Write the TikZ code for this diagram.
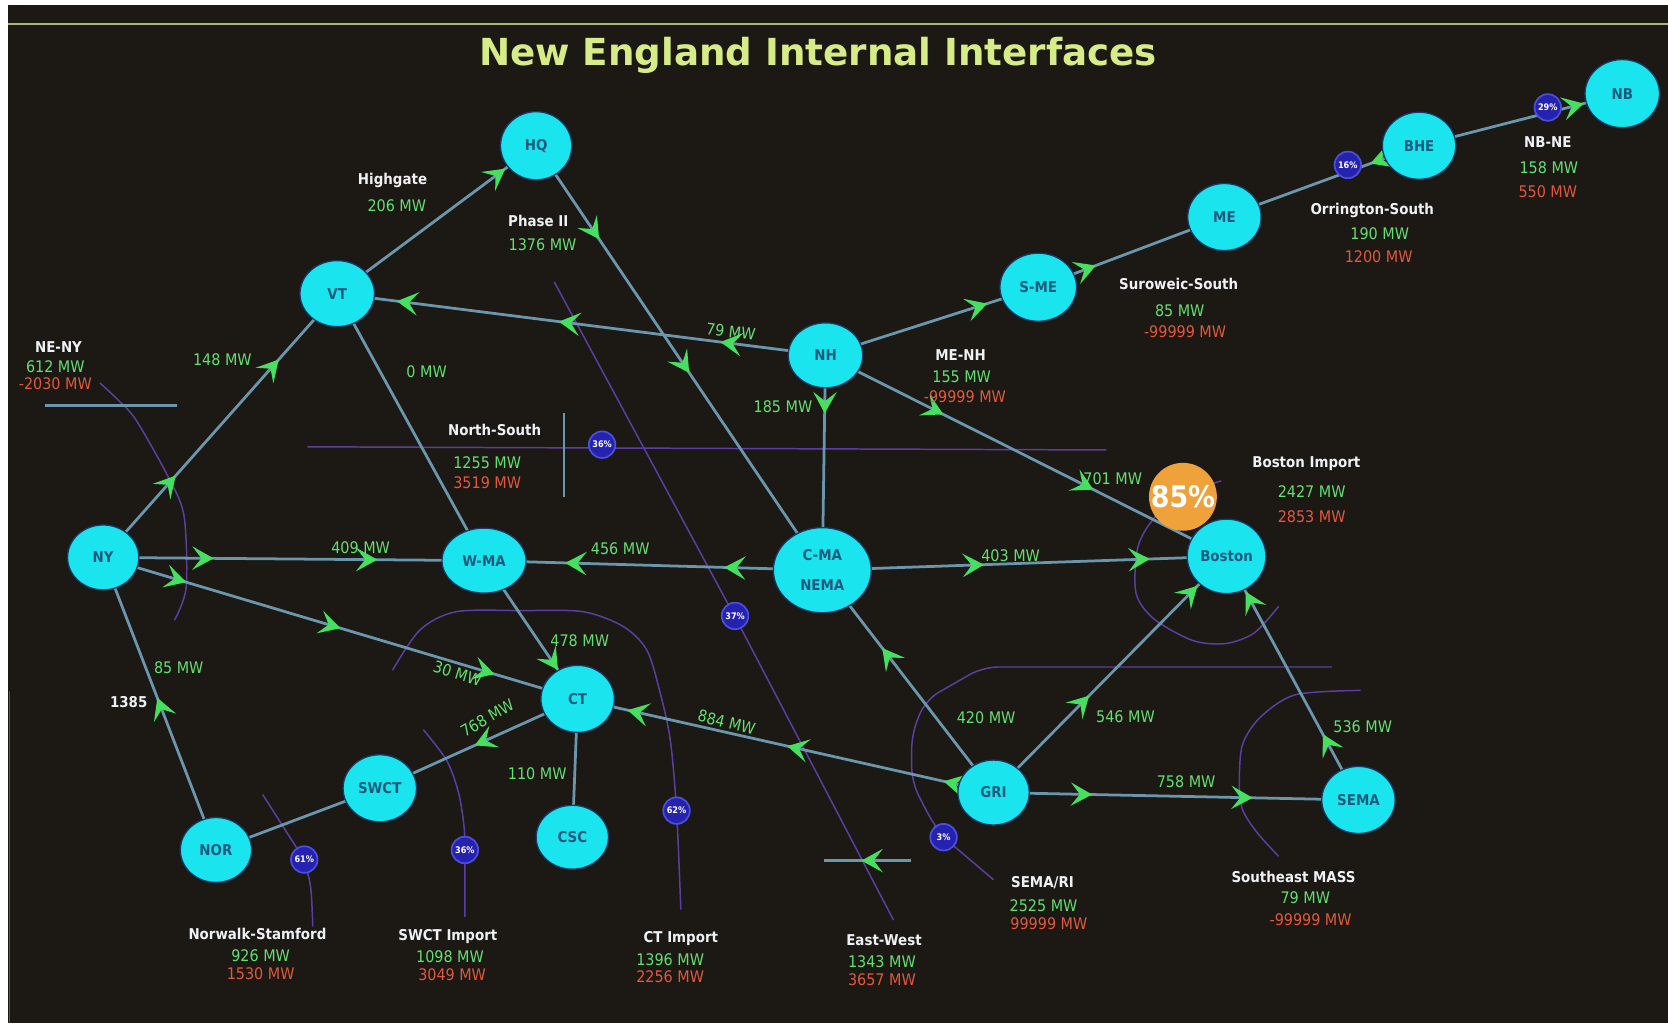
\documentclass[tikz,border=0pt]{standalone}
\usepackage{fontspec}
\setmainfont{DejaVu Sans}
\newfontfamily\screenfont{DejaVu Sans}[FakeStretch=0.9]
\usetikzlibrary{shapes.geometric,arrows.meta,decorations.markings}

\pgfdeclarelayer{backdrop}
\pgfdeclarelayer{lines}
\pgfsetlayers{backdrop,lines,main}

\definecolor{screen}{HTML}{1C1813}
\definecolor{cyanbus}{HTML}{1AE4EE}
\definecolor{busrim}{HTML}{173A66}
\definecolor{bustext}{HTML}{1C5A7C}
\definecolor{tie}{HTML}{6A97AE}
\definecolor{flowgreen}{HTML}{45E05E}
\definecolor{mwgreen}{HTML}{62E070}
\definecolor{limitred}{HTML}{E2583C}
\definecolor{namewhite}{HTML}{EEF2F6}
\definecolor{ifacecol}{HTML}{5B3FA0}
\definecolor{pctblue}{HTML}{2622B0}
\definecolor{pctrim}{HTML}{4B4FE0}
\definecolor{alarm}{HTML}{EFA13A}
\definecolor{titlecol}{HTML}{D6EC86}
\definecolor{rulecol}{HTML}{A6B777}
\definecolor{edgegreen}{HTML}{3F6A2C}

\tikzset{
  busnode/.style={ellipse, fill=cyanbus, draw=busrim, line width=1.2pt, inner sep=0pt,
    text=bustext, font=\screenfont\bfseries\fontsize{14}{16}\selectfont},
  tiearrow/.style={draw=tie, line width=2.6pt},
  flowat/.style={postaction={decorate, decoration={markings,
    mark=at position #1 with {\arrow{Stealth[length=20pt,width=22pt,inset=8.5pt,color=flowgreen]}}}}},
  ifaceline/.style={draw=ifacecol, line width=1.4pt, line join=round},
  pctbadge/.style={circle, fill=pctblue, draw=pctrim, line width=1.6pt, minimum size=25pt,
    inner sep=0pt, text=white, font=\screenfont\bfseries\fontsize{8.5}{9}\selectfont},
  ifacename/.style={text=namewhite, inner sep=0pt, font=\screenfont\bfseries\fontsize{14}{16}\selectfont},
  mwval/.style={text=mwgreen, inner sep=0pt, font=\screenfont\fontsize{15}{17}\selectfont},
  mwlimit/.style={text=limitred, inner sep=0pt, font=\screenfont\fontsize{15}{17}\selectfont},
}

\begin{document}
\begin{tikzpicture}[x=1pt,y=-1pt]
\useasboundingbox (0,0) rectangle (1568,962);

% screen, frame rule and interface boundaries
\begin{pgfonlayer}{backdrop}
  \fill[white] (0,0) rectangle (1568,962);
  \fill[screen] (7.5,4.7) rectangle (1568,962);
  \draw[rulecol, line width=2.5pt] (7.5,22.5) -- (1568,22.5);
  \draw[edgegreen, line width=1.2pt] (8.6,650) -- (8.6,962);

  % NE-NY
  \draw[ifaceline] plot[smooth] coordinates {(94,360) (111,376) (128,395) (158,448) (173,485) (175,552) (164,583)};
  % North-South
  \draw[ifaceline] (289,420) -- (1040,423);
  % Phase II / East-West
  \draw[ifaceline] (521,265) -- (691,580) -- (840,865);
  % CT Import
  \draw[ifaceline] plot[smooth] coordinates {(369,630) (395,592) (429,575) (490,574) (548,575) (586,589) (608,611) (620,649) (630,695) (636,762) (640,855)};
  % SWCT Import
  \draw[ifaceline] plot[smooth] coordinates {(398,686) (420,715) (431,745) (436,775) (437,799) (437,862)};
  % Norwalk-Stamford
  \draw[ifaceline] plot[smooth] coordinates {(247,747) (268,780) (285,808) (292,834) (294,871)};
  % SEMA/RI
  \draw[ifaceline, rounded corners=14pt] (1252,627) -- (924,627) -- (870,658) -- (857,690) -- (857,735) -- (877,774) -- (887,787) -- (934,827);
  % Boston Import
  \draw[ifaceline] plot[smooth] coordinates {(1148,452) (1105,468) (1081,492) (1069,517) (1068,558) (1085,582) (1121,602) (1152,605) (1179,595) (1202,570)};
  % Southeast MASS
  \draw[ifaceline] plot[smooth] coordinates {(1279,649) (1218,653) (1185,674) (1168,700) (1165,736) (1168,761) (1182,783) (1202,805)};

  % short tie segments
  \draw[tiearrow] (42,381) -- (166,381);
  \draw[tiearrow, line width=2pt] (530,388) -- (530,467);
\end{pgfonlayer}

% title
\node[text=titlecol, inner sep=0pt, font=\bfseries\fontsize{35}{35}\selectfont] (title) at (769,52) {New England Internal Interfaces};

% control areas
\node[busnode, minimum width=67pt, minimum height=64pt] (HQ) at (504,137) {HQ};
\node[busnode, minimum width=70pt, minimum height=62pt] (VT) at (317,276) {VT};
\node[busnode, minimum width=67pt, minimum height=61pt] (NY) at (97,524) {NY};
\node[busnode, minimum width=79pt, minimum height=61pt] (WMA) at (455,527) {W-MA};
\node[busnode, minimum width=92pt, minimum height=80pt, align=center,
      font=\screenfont\bfseries\fontsize{14}{28}\selectfont] (CMA) at (773,536) {C-MA\\NEMA};
\node[busnode, minimum width=70pt, minimum height=61pt] (NH) at (776,334) {NH};
\node[busnode, minimum width=72pt, minimum height=64pt] (SME) at (976,270) {S-ME};
\node[busnode, minimum width=69pt, minimum height=63pt] (ME) at (1151,204) {ME};
\node[busnode, minimum width=69pt, minimum height=63pt] (BHE) at (1334,137) {BHE};
\node[busnode, minimum width=70pt, minimum height=64pt] (NB) at (1525,88) {NB};
\node[busnode, minimum width=74pt, minimum height=70pt] (Boston) at (1153,523) {Boston};
\node[busnode, minimum width=69pt, minimum height=63pt] (CT) at (543,657) {CT};
\node[busnode, minimum width=69pt, minimum height=63pt] (SWCT) at (357,741) {SWCT};
\node[busnode, minimum width=67pt, minimum height=61pt] (NOR) at (203,799) {NOR};
\node[busnode, minimum width=68pt, minimum height=60pt] (CSC) at (538,787) {CSC};
\node[busnode, minimum width=67pt, minimum height=61pt] (GRI) at (934,745) {GRI};
\node[busnode, minimum width=69pt, minimum height=63pt] (SEMA) at (1277,752) {SEMA};

% interface loading badges
\node[pctbadge] (pct-ns) at (566,418) {36\%};
\node[pctbadge] (pct-ew) at (691,579) {37\%};
\node[pctbadge] (pct-nws) at (286,808) {61\%};
\node[pctbadge] (pct-swi) at (437,799) {36\%};
\node[pctbadge] (pct-cti) at (636,762) {62\%};
\node[pctbadge] (pct-sr) at (887,787) {3\%};
\node[pctbadge] (pct-os) at (1267,155) {16\%};
\node[pctbadge] (pct-nbne) at (1455,101) {29\%};
\node[circle, fill=alarm, minimum width=58pt, minimum height=60pt, inner sep=0pt, text=white,
      font=\screenfont\bfseries\fontsize{28}{28}\selectfont] (pct-bi) at (1112,467) {85\%};

% ties with flow direction marks
\begin{pgfonlayer}{lines}
  \draw[tiearrow, flowat=0.845] (VT.center) -- (HQ.center);
  \draw[tiearrow, flowat=0.22, flowat=0.535] (HQ.center) -- (CMA.center);
  \draw[tiearrow, flowat=0.215, flowat=0.546, flowat=0.878] (NH.center) -- (VT.center);
  \draw[tiearrow, flowat=0.31, flowat=0.75] (NY.center) -- (VT.center);
  \draw[tiearrow] (VT.center) -- (WMA.center);
  \draw[tiearrow, flowat=0.29, flowat=0.72] (NY.center) -- (WMA.center);
  \draw[tiearrow, flowat=0.29, flowat=0.76] (CMA.center) -- (WMA.center);
  \draw[tiearrow, flowat=0.175, flowat=0.5, flowat=0.825] (NY.center) -- (CT.center);
  \draw[tiearrow, flowat=0.79] (WMA.center) -- (CT.center);
  \draw[tiearrow, flowat=0.27] (NH.center) -- (CMA.center);
  \draw[tiearrow, flowat=0.76] (NH.center) -- (SME.center);
  \draw[tiearrow, flowat=0.31] (SME.center) -- (ME.center);
  \draw[tiearrow, flowat=0.25] (BHE.center) -- (ME.center);
  \draw[tiearrow, flowat=0.81] (BHE.center) -- (NB.center);
  \draw[tiearrow, flowat=0.294, flowat=0.668] (NH.center) -- (Boston.center);
  \draw[tiearrow, flowat=0.40, flowat=0.81] (CMA.center) -- (Boston.center);
  \draw[tiearrow, flowat=0.65] (GRI.center) -- (CMA.center);
  \draw[tiearrow, flowat=0.12, flowat=0.496, flowat=0.88] (GRI.center) -- (CT.center);
  \draw[tiearrow, flowat=0.41, flowat=0.875] (GRI.center) -- (Boston.center);
  \draw[tiearrow, flowat=0.27, flowat=0.71] (GRI.center) -- (SEMA.center);
  \draw[tiearrow, flowat=0.27, flowat=0.855] (SEMA.center) -- (Boston.center);
  \draw[tiearrow, flowat=0.52] (CT.center) -- (SWCT.center);
  \draw[tiearrow] (SWCT.center) -- (NOR.center);
  \draw[tiearrow, flowat=0.52] (NOR.center) -- (NY.center);
  \draw[tiearrow] (CT.center) -- (CSC.center);
  \coordinate (ewE) at (856,809);
  \coordinate (ewW) at (775,809);
  \draw[tiearrow, flowat=0.57] (ewE) -- (ewW);
\end{pgfonlayer}

% flow readouts on the ties
\node[mwval] (f148) at (209,338) {148 MW};
\node[mwval] (f0) at (401,349) {0 MW};
\node[mwval, rotate=-7] (f79) at (687,312) {79 MW};
\node[mwval] (f185) at (736,382) {185 MW};
\node[mwval] (f701) at (1046,450) {701 MW};
\node[mwval] (f409) at (339,515) {409 MW};
\node[mwval] (f456) at (583,516) {456 MW};
\node[mwval] (f403) at (950,522) {403 MW};
\node[mwval] (f478) at (545,602) {478 MW};
\node[mwval, rotate=-17] (f30) at (430,633) {30 MW};
\node[mwval] (f85) at (168,628) {85 MW};
\node[ifacename] (t1385) at (121,660) {1385};
\node[mwval, rotate=30] (f768) at (458,675) {768 MW};
\node[mwval] (f110) at (505,727) {110 MW};
\node[mwval, rotate=-14] (f884) at (683,679) {884 MW};
\node[mwval] (f420) at (927,675) {420 MW};
\node[mwval] (f546) at (1058,674) {546 MW};
\node[mwval] (f536) at (1281,683) {536 MW};
\node[mwval] (f758) at (1115,735) {758 MW};

% interface readouts
\node[ifacename] (hg-n) at (369,170) {Highgate};
\node[mwval] (hg-v) at (373,193) {206 MW};
\node[ifacename] (ph-n) at (506,208) {Phase II};
\node[mwval] (ph-v) at (510,230) {1376 MW};
\node[ifacename] (neny-n) at (55,326) {NE-NY};
\node[mwval] (neny-v) at (52,345) {612 MW};
\node[mwlimit] (neny-l) at (52,361) {-2030 MW};
\node[ifacename] (ns-n) at (465,404) {North-South};
\node[mwval] (ns-v) at (458,435) {1255 MW};
\node[mwlimit] (ns-l) at (458,454) {3519 MW};
\node[ifacename] (mnh-n) at (903,334) {ME-NH};
\node[mwval] (mnh-v) at (904,354) {155 MW};
\node[mwlimit] (mnh-l) at (907,373) {-99999 MW};
\node[ifacename] (bi-n) at (1228,436) {Boston Import};
\node[mwval] (bi-v) at (1233,462) {2427 MW};
\node[mwlimit] (bi-l) at (1233,486) {2853 MW};
\node[ifacename] (ss-n) at (1108,267) {Suroweic-South};
\node[mwval] (ss-v) at (1109,292) {85 MW};
\node[mwlimit] (ss-l) at (1114,312) {-99999 MW};
\node[ifacename] (os-n) at (1290,198) {Orrington-South};
\node[mwval] (os-v) at (1297,220) {190 MW};
\node[mwlimit] (os-l) at (1296,241) {1200 MW};
\node[ifacename] (nbne-n) at (1455,134) {NB-NE};
\node[mwval] (nbne-v) at (1456,158) {158 MW};
\node[mwlimit] (nbne-l) at (1455,180) {550 MW};
\node[ifacename] (nws-n) at (242,878) {Norwalk-Stamford};
\node[mwval] (nws-v) at (245,898) {926 MW};
\node[mwlimit] (nws-l) at (245,915) {1530 MW};
\node[ifacename] (swi-n) at (421,880) {SWCT Import};
\node[mwval] (swi-v) at (423,899) {1098 MW};
\node[mwlimit] (swi-l) at (425,916) {3049 MW};
\node[ifacename] (cti-n) at (640,882) {CT Import};
\node[mwval] (cti-v) at (630,902) {1396 MW};
\node[mwlimit] (cti-l) at (630,918) {2256 MW};
\node[ifacename] (ew-n) at (831,884) {East-West};
\node[mwval] (ew-v) at (829,904) {1343 MW};
\node[mwlimit] (ew-l) at (829,921) {3657 MW};
\node[ifacename] (sr-n) at (980,830) {SEMA/RI};
\node[mwval] (sr-v) at (981,851) {2525 MW};
\node[mwlimit] (sr-l) at (986,868) {99999 MW};
\node[ifacename] (sem-n) at (1216,824) {Southeast MASS};
\node[mwval] (sem-v) at (1227,844) {79 MW};
\node[mwlimit] (sem-l) at (1232,865) {-99999 MW};
\end{tikzpicture}
\end{document}
